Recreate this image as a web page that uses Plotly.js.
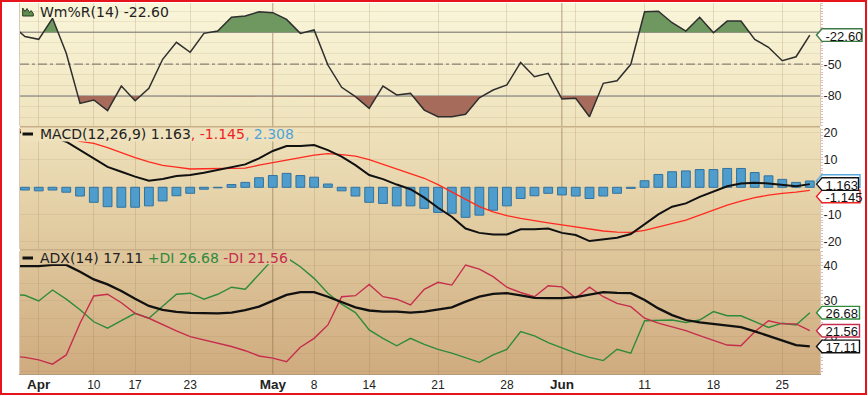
<!DOCTYPE html>
<html><head><meta charset="utf-8">
<script src="https://cdn.plot.ly/plotly-3.0.1.min.js"></script>
<style>
html,body{margin:0;padding:0;background:#fff;}
#chart{width:868px;height:396px;}
#frame{position:absolute;left:0;top:0;width:867px;height:395px;box-sizing:border-box;border:2px solid #e8141c;pointer-events:none;}
</style>
</head><body><div id="chart"></div><div id="frame"></div>
<script>
// ---------------- data (trading-day index, first point is just off the left edge) ----------------
const firstIdx = -1;
const tickIdx  = [1, 5, 8, 12, 18, 21, 25, 30, 35, 39, 40, 45, 50, 55];
const tickText = ['Apr','10','17','23','May','8','14','21','28','Jun','','11','18','25'];

const wpr = [-13, -24, -26.6, -6.8, -39.8, -86.9, -83.7, -93.8, -70.6, -84.4, -72.7, -45.4, -29.4, -38.8, -21, -18.8, -5.9, -4.7, -0.6, -1.5, -7.8, -21, -17.8, -50.8, -71.8, -80.6, -91.6, -70.6, -79, -77.5, -93.2, -99.5, -99.4, -97.2, -81.6, -74.3, -69.6, -48.3, -61.8, -58.6, -82.8, -82.1, -99.5, -68, -65.6, -50.1, -0.6, -0.2, -11, -18.8, -5.9, -20.4, -9.4, -9.4, -26.6, -34.1, -46.7, -43, -22.6];
const wprLevels = [-20, -50, -80];

const macd = [20.5, 20, 19.2, 18.5, 16.7, 13.6, 10.6, 7.5, 5.7, 3.9, 2.4, 3.0, 4.1, 4.5, 5.3, 6.3, 7.2, 8.4, 10.6, 13.3, 15.1, 15.1, 15.5, 13.6, 11.2, 8.1, 4.5, 3.0, 1.0, -0.7, -3.8, -7.5, -10.8, -15.1, -16.7, -17.3, -17.3, -15.4, -15.4, -15.1, -16.7, -17.5, -19.7, -19.1, -18.5, -17.1, -13.5, -9.9, -7.1, -5.9, -3.5, -1.6, 0.4, 1.4, 1.7, 1.4, 0.8, 0.4, 1.163];
const signal = [21.3, 21, 20.5, 19.5, 18.5, 16.8, 16.1, 14.5, 12.6, 10.9, 9.3, 8.0, 7.4, 6.7, 6.8, 6.9, 6.9, 7.0, 8.1, 9.1, 10.1, 10.9, 11.8, 12.3, 12.0, 11.4, 10.1, 8.4, 6.7, 5.1, 3.3, 1.0, -1.6, -4.3, -7.1, -9.0, -10.4, -11.4, -12.3, -13.0, -13.8, -14.5, -15.3, -16.0, -16.4, -16.5, -15.8, -14.5, -13.2, -12.0, -10.2, -8.4, -6.5, -5.1, -3.8, -2.9, -2.2, -1.8, -1.145];
const hist = [-0.8, -1.0, -1.3, -1.0, -1.8, -3.2, -5.5, -7.1, -7.3, -7.3, -6.8, -5.0, -3.1, -2.2, -0.7, -0.2, 1.0, 1.8, 3.5, 4.3, 5.1, 4.3, 3.7, 1.2, -1.3, -3.2, -5.5, -5.9, -6.8, -6.8, -7.7, -9.2, -9.5, -11.0, -10.2, -8.4, -6.8, -4.1, -3.1, -2.2, -2.8, -3.2, -4.1, -3.2, -2.2, -0.4, 2.4, 4.7, 5.7, 6.0, 6.5, 6.5, 6.9, 6.9, 5.4, 4.2, 2.9, 1.8, 2.308];

const adx = [39.9, 39.9, 39.9, 40.2, 40.2, 38.3, 36.1, 34.7, 32.8, 30.6, 28.6, 27.5, 26.9, 26.6, 26.5, 26.5, 26.7, 27.4, 28.4, 30.1, 31.7, 32.5, 32.5, 31.2, 29.6, 28.2, 27.3, 27.0, 27.0, 26.7, 27.0, 27.5, 28.2, 29.8, 31.2, 32.0, 32.2, 31.6, 30.9, 30.8, 30.8, 31.1, 31.9, 32.5, 32.3, 32.2, 30.3, 27.9, 26.0, 24.6, 23.9, 23.5, 23.1, 22.6, 21.4, 20.1, 19.0, 17.5, 17.11];
const plusDI = [31.9, 31.6, 30.0, 33.1, 30.5, 27.5, 24.1, 22.3, 24.4, 26.5, 25.1, 28.4, 31.9, 32.2, 30.5, 31.9, 33.9, 33.3, 37.4, 41.8, 42.3, 39.7, 36.4, 32.2, 29.1, 26.7, 21.8, 19.4, 17.3, 19.4, 17.7, 16.3, 15.2, 14.0, 12.6, 14.7, 16.3, 21.3, 20.1, 18.2, 16.6, 15.2, 14.0, 13.1, 16.3, 15.2, 24.4, 24.4, 24.6, 23.9, 24.6, 27.0, 25.8, 25.8, 24.1, 22.5, 23.7, 23.2, 26.68];
const minusDI = [14.4, 14.0, 13.3, 12.1, 14.7, 23.7, 31.4, 31.9, 29.5, 26.5, 25.1, 23.2, 21.5, 19.9, 19.0, 18.2, 17.1, 15.9, 14.4, 13.8, 12.8, 16.9, 19.4, 23.2, 31.2, 31.5, 34.7, 31.2, 30.5, 28.9, 33.3, 35.3, 34.5, 40.2, 39.0, 36.9, 33.9, 32.4, 31.2, 34.3, 34.0, 30.8, 33.9, 31.2, 29.3, 28.4, 25.1, 23.7, 22.7, 21.6, 20.2, 18.8, 17.5, 17.3, 21.3, 24.4, 23.5, 23.5, 21.56];

// ---------------- geometry / style helpers ----------------
const M = {l:20, r:48, t:3, b:22}, W = 868, H = 396;
const plotW = W - M.l - M.r, plotH = H - M.t - M.b;
const pxX = px => (px - M.l) / plotW;
const pxY = py => (H - M.b - py) / plotH;
const dom = (a, b) => [pxY(b), pxY(a)];

const bgStops = [[0,[250,246,218]],[0.33,[239,227,189]],[0.66,[223,199,156]],[1,[207,171,127]]];
function bgAt(py){
  const t = Math.min(1, Math.max(0, (py - M.t) / plotH));
  for (let k = 1; k < bgStops.length; k++){
    const [t1,c1] = bgStops[k], [t0,c0] = bgStops[k-1];
    if (t <= t1){ const f = (t - t0)/(t1 - t0);
      return 'rgb(' + c0.map((c,j)=>Math.round(c + f*(c1[j]-c))).join(',') + ')'; }
  }
  return 'rgb(' + bgStops[bgStops.length-1][1].join(',') + ')';
}
const svgBg = '<svg xmlns="http://www.w3.org/2000/svg" width="10" height="100" preserveAspectRatio="none"><defs><linearGradient id="g" x1="0" y1="0" x2="0" y2="1">' +
  bgStops.map(s => '<stop offset="'+s[0]+'" stop-color="rgb('+s[1].join(',')+')"/>').join('') +
  '</linearGradient></defs><rect width="10" height="100" fill="url(#g)"/></svg>';

const xs = wpr.map((_, k) => k + firstIdx);

// clipped fill series for Williams %R zones
function zone(level, above){
  const X = [], Y = [];
  for (let k = 0; k < xs.length; k++){
    if (k > 0){
      const y0 = wpr[k-1], y1 = wpr[k];
      if ((y0 - level) * (y1 - level) < 0){
        const t = (level - y0) / (y1 - y0);
        X.push(xs[k-1] + t * (xs[k] - xs[k-1])); Y.push(level);
      }
    }
    X.push(xs[k]); Y.push(above ? Math.max(wpr[k], level) : Math.min(wpr[k], level));
  }
  return {X, Y};
}
const upZ = zone(wprLevels[0], true), dnZ = zone(wprLevels[2], false);

const traces = [
  {x: upZ.X, y: upZ.X.map(()=>wprLevels[0]), xaxis:'x3', yaxis:'y3', mode:'lines', line:{width:0}, hoverinfo:'skip'},
  {x: upZ.X, y: upZ.Y, xaxis:'x3', yaxis:'y3', mode:'lines', line:{width:0}, fill:'tonexty', fillcolor:'#6f9860', hoverinfo:'skip'},
  {x: dnZ.X, y: dnZ.X.map(()=>wprLevels[2]), xaxis:'x3', yaxis:'y3', mode:'lines', line:{width:0}, hoverinfo:'skip'},
  {x: dnZ.X, y: dnZ.Y, xaxis:'x3', yaxis:'y3', mode:'lines', line:{width:0}, fill:'tonexty', fillcolor:'#a66b5a', hoverinfo:'skip'},
  {x: xs, y: wpr, xaxis:'x3', yaxis:'y3', mode:'lines', line:{color:'#2e2e2e', width:1.5}},

  {x: xs, y: hist, xaxis:'x2', yaxis:'y2', type:'bar', width:0.64, marker:{color:'#4e9dcc', line:{color:'#33729f', width:1}}},
  {x: xs, y: signal, xaxis:'x2', yaxis:'y2', mode:'lines', line:{color:'#ff2a1f', width:1.3}},
  {x: xs, y: macd, xaxis:'x2', yaxis:'y2', mode:'lines', line:{color:'#111111', width:2}},

  {x: xs, y: plusDI, xaxis:'x', yaxis:'y', mode:'lines', line:{color:'#2f8a3c', width:1.4}},
  {x: xs, y: minusDI, xaxis:'x', yaxis:'y', mode:'lines', line:{color:'#c62d4d', width:1.4}},
  {x: xs, y: adx, xaxis:'x', yaxis:'y', mode:'lines', line:{color:'#111111', width:2.3}}
];

const gridV = 'rgba(150,120,80,0.22)', gridH = 'rgba(150,120,80,0.13)';
const tickFmt = tickText.map(t => isNaN(Number(t)) && t !== '' ? '<span style="font-size:13.5px"><b>'+t+'</b></span>' : t);
const xBase = {range:[-0.36, 57.74], tickvals: tickIdx, ticktext: tickFmt, showgrid:true, gridcolor:gridV, gridwidth:1, zeroline:false, ticks:'', fixedrange:true};
const yBase = {side:'right', zeroline:false, showgrid:true, gridcolor:gridH, ticks:'outside', ticklen:2, tickcolor:'#e2b3b0', ticklabelstandoff:-2,
  tickfont:{family:'Liberation Sans, Arial, sans-serif', size:12.5, color:'#222'}, showline:true, linecolor:'rgba(170,140,100,0.45)', mirror:true,
  minor:{ticks:'outside', ticklen:2, tickcolor:'#e6bcb8', showgrid:false}};

const layout = {
  width:W, height:H, margin:{l:M.l, r:M.r, t:M.t, b:M.b, pad:0},
  paper_bgcolor:'#ffffff', plot_bgcolor:'rgba(0,0,0,0)', showlegend:false, bargap:0,
  xaxis: Object.assign({}, xBase, {anchor:'y', showticklabels:true, showline:true, linecolor:'#b59c7a',
    tickfont:{family:'Liberation Sans, Arial, sans-serif', size:12, color:'#222'}}),
  xaxis2: Object.assign({}, xBase, {anchor:'y2', matches:'x', showticklabels:false}),
  xaxis3: Object.assign({}, xBase, {anchor:'y3', matches:'x', showticklabels:false}),
  yaxis:  Object.assign({}, yBase, {anchor:'x', domain: dom(250.5, 374), range:[9.3, 44.3],
    tickvals:[40,35,30,25,20,15,10], ticktext:['40','','30','','20','',''], minor:Object.assign({}, yBase.minor, {dtick:1})}),
  yaxis2: Object.assign({}, yBase, {anchor:'x2', domain: dom(127.5, 249), range:[-22.6, 21.9],
    tickvals:[20,10,0,-10,-20], ticktext:['20','10','','-10','-20'], minor:Object.assign({}, yBase.minor, {dtick:1})}),
  yaxis3: Object.assign({}, yBase, {anchor:'x3', domain: dom(3, 126), range:[-108.2, 7.6],
    tickvals:[0,-10,-20,-30,-40,-50,-60,-70,-80,-90,-100], ticktext:['','','','','','-50','','','-80','',''],
    minor:Object.assign({}, yBase.minor, {dtick:2.5})}),
  images:[{source:'data:image/svg+xml;charset=utf-8,' + encodeURIComponent(svgBg), xref:'paper', yref:'paper',
    x:0, y:1, sizex:1, sizey:1, xanchor:'left', yanchor:'top', sizing:'stretch', layer:'below'}],
  shapes:[], annotations:[]
};

// month separators (darker vertical lines) on all panels
const panels = [['x','y'],['x2','y2'],['x3','y3']];
tickIdx.forEach((v, k) => {
  if (isNaN(Number(tickText[k])) && tickText[k] !== '' && k > 0){
    panels.forEach(([xa, ya]) => layout.shapes.push({type:'line', xref:xa, yref:ya+' domain', x0:v, x1:v, y0:0, y1:1,
      line:{color:'rgba(140,110,80,0.33)', width:1.5}, layer:'below'}));
  }
});
// Williams %R reference levels
wprLevels.forEach((lv, k) => layout.shapes.push({type:'line', xref:'x3 domain', yref:'y3', x0:0, x1:1, y0:lv, y1:lv,
  line:{color: k === 1 ? '#85837c' : '#9b9a94', width: k === 1 ? 1.2 : 1.6, dash: k === 1 ? 'dashdot' : 'solid'}, layer:'below'}));
// panel separators
[126.75, 249.75].forEach(py => layout.shapes.push({type:'line', xref:'paper', yref:'paper', x0:0, x1:1, y0:pxY(py), y1:pxY(py),
  line:{color:'#c9ae8a', width:1.6}, layer:'above'}));

// legend backgrounds (hide lines passing under the text)
layout.shapes.push({type:'rect', xref:'paper', yref:'paper', x0:pxX(21), x1:pxX(297), y0:pxY(141.5), y1:pxY(128), fillcolor:bgAt(134), line:{width:0}, layer:'above'});
layout.shapes.push({type:'rect', xref:'paper', yref:'paper', x0:pxX(21), x1:pxX(290), y0:pxY(264.3), y1:pxY(251.5), fillcolor:bgAt(257), line:{width:0}, layer:'above'});
// legend line glyphs
[134, 258].forEach(py => layout.shapes.push({type:'line', xref:'paper', yref:'paper', x0:pxX(22.5), x1:pxX(33), y0:pxY(py), y1:pxY(py), line:{color:'#111', width:3}, layer:'above'}));
// small indicator icon for Wm%R
const icon = [[22.7,16],[22.7,8],[25,11.5],[27,8.5],[29.5,12.5],[31,10.5],[33.3,13.5],[33.3,16]];
layout.shapes.push({type:'path', xref:'paper', yref:'paper', layer:'above',
  path: 'M ' + icon.map(p => pxX(p[0]) + ' ' + pxY(p[1])).join(' L ') + ' Z', fillcolor:'#5f8f4e', line:{color:'#2b3a22', width:1}});

const legendFont = {family:'DejaVu Sans, Verdana, sans-serif', size:14, color:'#222'};
function legend(py, text){
  layout.annotations.push({xref:'paper', yref:'paper', x:pxX(37.5), y:pxY(py), xanchor:'left', yanchor:'middle', showarrow:false, text, font:legendFont});
}
legend(11.5, 'Wm%R(14) ' + wpr[wpr.length-1].toFixed(2));
legend(134, 'MACD(12,26,9) ' + macd[macd.length-1].toFixed(3) + '<span style="color:#ee2424">, ' + signal[signal.length-1].toFixed(3) +
  '</span><span style="color:#4ea4dc">, ' + hist[hist.length-1].toFixed(3) + '</span>');
legend(258, 'ADX(14) ' + adx[adx.length-1].toFixed(2) + ' <span style="color:#2f8a3c">+DI ' + plusDI[plusDI.length-1].toFixed(2) +
  '</span> <span style="color:#c62d4d">-DI ' + minusDI[minusDI.length-1].toFixed(2) + '</span>');

// last-value boxes on the right axis
function valueBox(yref, val, digits, color, wPx, shift){
  const s = shift, h = 6.3;
  layout.shapes.push({type:'path', xref:'paper', yref, xsizemode:'pixel', ysizemode:'pixel', xanchor:1, yanchor:val, layer:'above',
    path:`M -3.5 ${s} L 2 ${s+h} L ${wPx} ${s+h} L ${wPx} ${s-h} L 2 ${s-h} Z`, fillcolor:'#ffffff', line:{color, width:1.4},
    label:{text: val.toFixed(digits), textposition:'middle left', padding:6,
      font:{family:'Liberation Sans, Arial, sans-serif', size:13, color:'#111'}}});
}
valueBox('y3', wpr[wpr.length-1], 2, '#3d7a45', 42, 0);
valueBox('y2', hist[hist.length-1], 3, '#5aa9dc', 40, 0);
valueBox('y2', signal[signal.length-1], 3, '#ee2424', 40, -6);
valueBox('y2', macd[macd.length-1], 3, '#111111', 38.5, 0);
valueBox('y', plusDI[plusDI.length-1], 2, '#2f8a3c', 39.5, 0);
valueBox('y', minusDI[minusDI.length-1], 2, '#c62d4d', 39.5, 0);
valueBox('y', adx[adx.length-1], 2, '#111111', 39.5, 0);

Plotly.newPlot('chart', traces, layout, {displayModeBar:false, staticPlot:true});
</script></body></html>
